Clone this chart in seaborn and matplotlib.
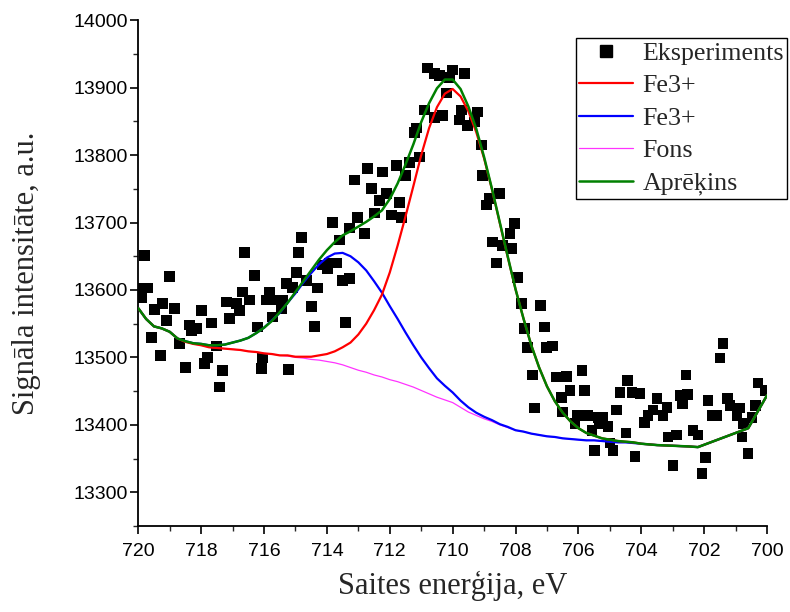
import numpy as np
import pandas as pd
import matplotlib
matplotlib.use("Agg")
import matplotlib.pyplot as plt
import seaborn as sns
from matplotlib.ticker import MultipleLocator
from matplotlib.lines import Line2D

# ---------------- data ----------------
exp_x = [719.81, 719.01, 719.97, 719.71, 719.90, 719.49, 719.24, 718.85, 719.11, 717.99,
         719.59, 718.69, 719.30, 718.38, 718.15, 718.31, 717.68, 717.10, 717.20, 716.88,
         716.78, 716.69, 716.46, 716.62, 716.31, 716.21, 717.52, 717.80, 717.90, 718.50,
         717.32, 717.42, 716.05, 716.08, 715.83, 715.92, 715.61, 715.41, 715.73, 715.45,
         715.22, 715.29, 715.10, 714.97, 714.90, 714.81, 713.82, 714.65, 714.30, 714.49,
         714.39, 714.14, 713.92, 713.69, 713.60, 713.50, 713.41, 713.28, 710.80, 710.57,
         710.41, 710.00, 710.10, 709.62, 710.19, 710.89, 710.57, 710.32, 709.71, 709.20,
         709.78, 709.52, 709.30, 711.15, 711.21, 711.05, 711.37, 711.78, 712.71, 712.23,
         713.12, 711.50, 712.58, 712.10, 712.32, 711.69, 711.94, 711.62, 712.48, 713.03,
         712.80, 709.08, 709.04, 708.50, 708.82, 708.92, 708.03, 708.18, 708.73, 708.41,
         708.12, 708.60, 707.93, 713.98, 713.28, 707.80, 707.20, 707.71, 707.07, 707.61,
         707.01, 706.82, 707.45, 706.69, 706.37, 705.89, 706.27, 706.53, 705.80, 707.39,
         706.50, 706.02, 705.70, 706.11, 705.38, 705.22, 705.32, 705.06, 704.78, 705.57,
         705.48, 705.00, 704.90, 704.49, 704.20, 704.43, 704.68, 704.30, 704.04, 703.50,
         703.18, 703.63, 703.79, 703.89, 703.31, 703.15, 702.87, 702.99, 702.58, 702.77,
         702.52, 702.68, 702.36, 702.20, 701.97, 702.07, 701.88, 701.75, 701.59, 701.27,
         701.18, 700.86, 700.96, 700.76, 700.80, 700.61, 701.40, 701.50, 700.29, 700.06,
         700.38, 700.48]
exp_y = [13651, 13620, 13603, 13603, 13589, 13571, 13580, 13573, 13555, 13570,
         13530, 13521, 13503, 13548, 13543, 13540, 13551, 13558, 13582, 13580,
         13570, 13597, 13585, 13656, 13622, 13545, 13517, 13500, 13491, 13485,
         13481, 13456, 13499, 13484, 13597, 13585, 13585, 13585, 13560, 13573,
         13482, 13610, 13604, 13626, 13656, 13678, 13700, 13614, 13603, 13576,
         13546, 13637, 13640, 13640, 13674, 13614, 13552, 13692, 13929, 13921,
         13918, 13926, 13915, 13921, 13892, 13867, 13856, 13859, 13867, 13864,
         13852, 13844, 13849, 13840, 13834, 13797, 13789, 13785, 13780, 13775,
         13763, 13770, 13751, 13743, 13733, 13730, 13711, 13708, 13714, 13708,
         13684, 13815, 13770, 13743, 13736, 13726, 13699, 13684, 13671, 13666,
         13662, 13640, 13619, 13632, 13617, 13580, 13577, 13543, 13545, 13515,
         13515, 13517, 13474, 13471, 13472, 13481, 13451, 13441, 13451, 13425,
         13419, 13414, 13414, 13402, 13411, 13411, 13402, 13398, 13422, 13392,
         13362, 13373, 13362, 13388, 13353, 13466, 13448, 13448, 13447, 13439,
         13426, 13422, 13414, 13404, 13414, 13382, 13385, 13340, 13474, 13444,
         13445, 13432, 13392, 13385, 13352, 13328, 13436, 13414, 13414, 13439,
         13429, 13425, 13414, 13402, 13382, 13358, 13521, 13499, 13462, 13451,
         13429, 13411]

curve_x = [720, 719.75, 719.5, 719.25, 719, 718.75, 718.5, 718.25, 718, 717.75,
           717.5, 717.25, 717, 716.75, 716.5, 716.25, 716, 715.75, 715.5, 715.25,
           715, 714.75, 714.5, 714.25, 714, 713.75, 713.5, 713.25, 713, 712.75,
           712.5, 712.25, 712, 711.75, 711.5, 711.25, 711, 710.75, 710.5, 710.25,
           710, 709.75, 709.5, 709.25, 709, 708.75, 708.5, 708.25, 708, 707.75,
           707.5, 707.25, 707, 706.75, 706.5, 706.25, 706, 705.75, 705.5, 705.25,
           705, 704.75, 704.5, 704.25, 704, 703.5, 703, 702.5, 702.2, 700.6, 700]
fons_y = [13573, 13557, 13546, 13543, 13538, 13528, 13523, 13520, 13518, 13515,
          13514, 13513, 13512, 13511, 13509, 13508, 13506, 13505, 13503, 13502,
          13500, 13499, 13497, 13496, 13494, 13492, 13489, 13485, 13481, 13478,
          13474, 13471, 13467, 13464, 13460, 13456, 13451, 13446, 13441, 13437,
          13433, 13426, 13419, 13414, 13409, 13405, 13400, 13396, 13392, 13390,
          13387, 13385, 13383, 13382, 13380, 13379, 13378, 13377, 13377, 13376,
          13375, 13374, 13374, 13373, 13372, 13370, 13369, 13368, 13367, 13395, 13444]
fe_main_y = [13573, 13557, 13546, 13543, 13538, 13528, 13523, 13520, 13518, 13515,
             13514, 13513, 13512, 13511, 13509, 13508, 13506, 13505, 13503, 13503,
             13501, 13501, 13501, 13503, 13505, 13509, 13515, 13522, 13534, 13550,
             13570, 13593, 13626, 13666, 13709, 13754, 13800, 13840, 13871, 13891,
             13898, 13887, 13865, 13834, 13795, 13749, 13699, 13649, 13601, 13558,
             13518, 13485, 13457, 13435, 13418, 13405, 13395, 13388, 13384, 13380,
             13378, 13376, 13375, 13374, 13372, 13370, 13369, 13368, 13367, 13395, 13444]
fe_sat_y = [13573, 13557, 13546, 13543, 13538, 13528, 13524, 13521, 13520, 13518,
            13518, 13519, 13522, 13525, 13529, 13536, 13544, 13555, 13566, 13581,
            13595, 13611, 13625, 13638, 13648, 13654, 13655, 13650, 13641, 13629,
            13613, 13596, 13576, 13557, 13537, 13518, 13500, 13484, 13469, 13458,
            13448, 13436, 13426, 13418, 13412, 13407, 13401, 13397, 13392, 13390,
            13387, 13385, 13383, 13382, 13380, 13379, 13378, 13377, 13377, 13376,
            13375, 13374, 13374, 13373, 13372, 13370, 13369, 13368, 13367, 13395, 13444]
fit_y = [13573, 13557, 13546, 13543, 13538, 13528, 13524, 13521, 13520, 13518,
         13518, 13519, 13522, 13525, 13529, 13536, 13544, 13554, 13567, 13581,
         13597, 13613, 13629, 13645, 13659, 13671, 13681, 13687, 13694, 13701,
         13709, 13718, 13735, 13758, 13786, 13816, 13849, 13877, 13899, 13912,
         13912, 13898, 13872, 13839, 13797, 13750, 13700, 13650, 13601, 13558,
         13518, 13485, 13457, 13435, 13418, 13405, 13395, 13388, 13384, 13380,
         13378, 13376, 13375, 13374, 13372, 13370, 13369, 13368, 13367, 13395, 13444]

labels = ["Eksperiments", "Fe3+", "Fe3+", "Fons", "Aprēķins"]
x_ticks = [720, 718, 716, 714, 712, 710, 708, 706, 704, 702, 700]
y_ticks = [13300, 13400, 13500, 13600, 13700, 13800, 13900, 14000]

# ---------------- style ----------------
sns.set_theme(style="ticks")
plt.rcParams['font.family'] = ['Liberation Serif', 'DejaVu Serif']
plt.rcParams['axes.linewidth'] = 1.3

fig = plt.figure(figsize=(7.9, 6.12), dpi=100)
ax = fig.add_axes([0.175, 0.1405, 0.796, 0.8265])

exp_df = pd.DataFrame({"E": exp_x, "I": exp_y})
sns.scatterplot(data=exp_df, x="E", y="I", marker="s", s=60, color="black",
                edgecolor="none", linewidth=0, ax=ax, zorder=2, legend=False)

c_df = pd.DataFrame({"E": curve_x, "fons": fons_y, "fe1": fe_main_y,
                     "fe2": fe_sat_y, "fit": fit_y})
sns.lineplot(data=c_df, x="E", y="fons", color="#FF33FF", linewidth=0.9,
             ax=ax, zorder=3, estimator=None)
sns.lineplot(data=c_df, x="E", y="fe2", color="#0000FF", linewidth=1.6,
             ax=ax, zorder=4, estimator=None)
sns.lineplot(data=c_df, x="E", y="fe1", color="#FF0000", linewidth=1.6,
             ax=ax, zorder=5, estimator=None)
sns.lineplot(data=c_df, x="E", y="fit", color="#008000", linewidth=1.8,
             ax=ax, zorder=6, estimator=None)

ax.set_xlim(720, 700)
ax.set_ylim(13250, 14000)
ax.set_xticks(x_ticks)
ax.set_yticks(y_ticks)
ax.xaxis.set_minor_locator(MultipleLocator(1))
ax.yaxis.set_minor_locator(MultipleLocator(50))
ax.tick_params(which="major", direction="out", length=6, width=1.2,
               labelsize=14, labelfontfamily="Liberation Sans", colors="black")
ax.tick_params(axis="x", which="major", pad=6)
ax.tick_params(axis="y", which="major", pad=1.5)
ax.tick_params(which="minor", direction="out", length=3.5, width=1.0)
for s in ["top", "right"]:
    ax.spines[s].set_visible(False)
for s in ["left", "bottom"]:
    ax.spines[s].set_color("black")

ax.set_xlabel("Saites enerģija, eV", fontsize=22, labelpad=8)
ax.set_ylabel("Signāla intensitāte, a.u.", fontsize=22, labelpad=23)

handles = [
    Line2D([], [], marker="s", color="black", linestyle="none", markersize=8),
    Line2D([], [], color="#FF0000", linewidth=1.6),
    Line2D([], [], color="#0000FF", linewidth=1.6),
    Line2D([], [], color="#FF33FF", linewidth=0.9),
    Line2D([], [], color="#008000", linewidth=1.8),
]
leg = ax.legend(handles, labels, loc="upper right", bbox_to_anchor=(1.032, 0.964),
                fontsize=18.7, frameon=True, fancybox=False, framealpha=1,
                edgecolor="black", borderpad=0.12, handlelength=2.1,
                handletextpad=0.35, labelspacing=0.36, borderaxespad=0)
leg.get_frame().set_linewidth(1.0)

fig.savefig("out.png", dpi=100)
